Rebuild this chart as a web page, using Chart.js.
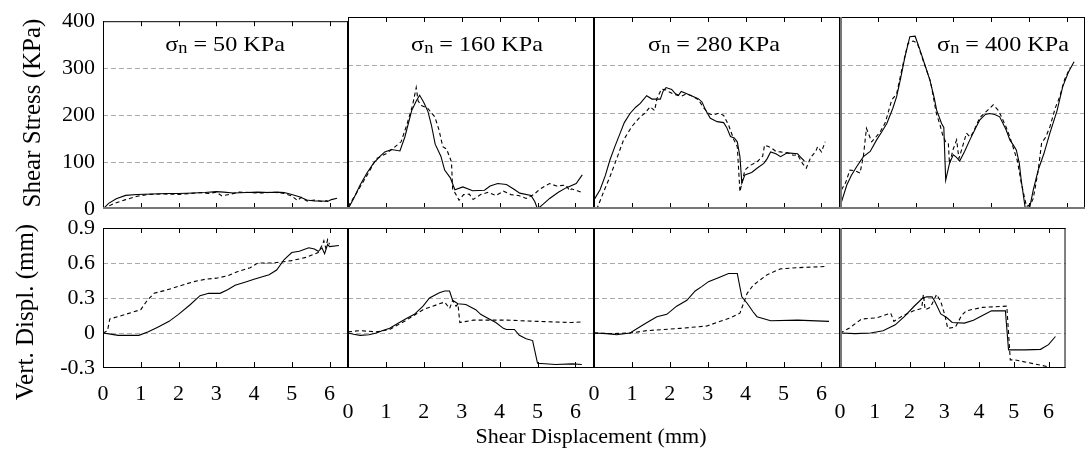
<!DOCTYPE html>
<html>
<head>
<meta charset="utf-8">
<script src="https://cdn.jsdelivr.net/npm/chart.js@4.4.0/dist/chart.umd.min.js"></script>
<style>
body { margin: 0; background: #fff; }
#wrap { position: relative; width: 1085px; height: 452px; overflow: hidden; font-family: "Liberation Serif", "Times New Roman", serif; color: #000; }
#wrap canvas { position: absolute; left: 0; top: 0; }
.lbl { position: absolute; white-space: nowrap; }
.ptitle { font-size: 21px; line-height: 24px; transform: translateX(-50%) scaleX(1.15); }
.ptitle sub { font-size: 16px; vertical-align: -2px; line-height: 0; }
.ytitle { font-size: 25px; line-height: 25px; transform: translate(-50%, -50%) rotate(-90deg); }
.xtitle { font-size: 22px; line-height: 22px; transform: translateX(-50%); }
</style>
</head>
<body>
<div id="wrap"></div>
<script>
// normal stress of each test (one column each)
var normal_stress = [50, 160, 280, 400];

// axis ticks
var x_ticks = [0, 1, 2, 3, 4, 5, 6];
var tau_ticks = [0, 100, 200, 300, 400];
var dv_ticks = [-0.3, 0, 0.3, 0.6, 0.9];

// shear stress (KPa) vs shear displacement (mm)
var tau_50_solid = [[0,0],[0.15,12],[0.35,22],[0.6,29],[0.9,31],[1.3,32],[1.7,33],[2.0,33],[2.4,34],[2.7,35],[3.0,37],[3.2,36],[3.45,34],[3.8,35],[4.1,36],[4.4,35],[4.6,36],[4.8,35],[5.0,31],[5.2,26],[5.4,19],[5.6,17],[5.8,17],[5.95,16],[6.05,20],[6.2,23]];
var tau_50_dashed = [[0,0],[0.3,12],[0.6,20],[0.9,27],[1.2,31],[1.6,32],[2.0,31],[2.3,33],[2.6,35],[2.8,33],[3.0,36],[3.15,28],[3.35,31],[3.6,36],[3.9,35],[4.2,34],[4.5,36],[4.8,33],[5.0,28],[5.15,18],[5.25,25],[5.4,17],[5.6,19],[5.8,16],[5.95,18]];

var tau_160_solid = [[0,0],[0.15,22],[0.32,50],[0.5,75],[0.67,95],[0.85,110],[0.97,119],[1.15,124],[1.37,121],[1.5,150],[1.68,205],[1.8,225],[1.89,237],[2.0,222],[2.11,203],[2.2,175],[2.3,135],[2.45,110],[2.55,81],[2.7,65],[2.82,40],[3.03,46],[3.29,38],[3.6,39],[3.75,48],[3.95,53],[4.18,51],[4.4,40],[4.53,33],[4.83,28],[4.93,15],[5.0,0],[5.15,10],[5.32,22],[5.55,35],[5.75,44],[6.02,53],[6.18,71]];
var tau_160_dashed = [[0,5],[0.2,30],[0.5,70],[0.75,105],[1.0,115],[1.2,127],[1.4,140],[1.55,175],[1.7,215],[1.8,253],[1.85,225],[1.95,215],[2.1,210],[2.29,192],[2.4,165],[2.5,130],[2.6,125],[2.73,98],[2.76,42],[2.85,30],[2.93,18],[3.05,30],[3.2,31],[3.3,20],[3.5,30],[3.7,35],[3.9,28],[4.1,37],[4.3,30],[4.5,28],[4.7,22],[4.9,30],[5.04,40],[5.2,48],[5.32,53],[5.5,48],[5.75,50],[5.85,38],[5.9,42],[6.05,38],[6.2,34]];

var tau_280_solid = [[0,19],[0.16,40],[0.3,70],[0.42,102],[0.55,130],[0.69,158],[0.8,180],[0.95,199],[1.1,212],[1.22,220],[1.39,236],[1.53,229],[1.75,229],[1.82,245],[1.9,253],[2.05,249],[2.15,240],[2.23,237],[2.3,245],[2.45,240],[2.63,234],[2.75,230],[2.85,223],[2.95,205],[3.07,189],[3.25,182],[3.42,180],[3.5,170],[3.6,151],[3.7,148],[3.78,140],[3.85,109],[3.9,54],[3.98,71],[4.16,76],[4.3,85],[4.48,95],[4.57,105],[4.66,119],[4.8,115],[4.92,109],[5.1,117],[5.37,115],[5.45,108],[5.55,100]];
var tau_280_dashed = [[0.05,0],[0.1,5],[0.25,35],[0.42,67],[0.6,105],[0.78,144],[1.0,172],[1.22,192],[1.35,200],[1.48,213],[1.6,205],[1.66,230],[1.78,250],[1.9,248],[2.0,243],[2.15,238],[2.3,235],[2.45,240],[2.6,235],[2.75,228],[2.9,210],[3.05,198],[3.16,196],[3.3,200],[3.42,195],[3.55,175],[3.69,144],[3.78,130],[3.85,36],[3.98,81],[4.1,90],[4.3,98],[4.45,110],[4.5,133],[4.6,130],[4.68,127],[4.8,120],[4.92,119],[5.1,117],[5.25,112],[5.37,113],[5.5,95],[5.6,85],[5.72,108],[5.85,120],[5.9,130],[6.0,119],[6.1,140]];

var tau_400_solid = [[0,5],[0.18,50],[0.3,70],[0.44,88],[0.62,109],[0.8,120],[0.97,144],[1.1,160],[1.24,178],[1.4,210],[1.5,234],[1.6,270],[1.72,317],[1.85,359],[1.99,360],[2.12,331],[2.25,300],[2.38,269],[2.5,230],[2.56,206],[2.69,178],[2.75,170],[2.8,60],[2.9,95],[3.0,113],[3.08,108],[3.17,100],[3.3,120],[3.44,144],[3.6,170],[3.7,185],[3.85,197],[3.97,199],[4.1,197],[4.23,192],[4.4,165],[4.5,144],[4.6,132],[4.67,123],[4.75,95],[4.8,60],[4.91,0],[5.03,5],[5.12,40],[5.25,81],[5.4,115],[5.56,158],[5.75,205],[5.9,255],[6.05,285],[6.2,307]];
var tau_400_dashed = [[0.04,40],[0.15,55],[0.26,81],[0.4,80],[0.53,75],[0.62,110],[0.7,168],[0.84,140],[0.95,150],[1.06,160],[1.2,180],[1.37,227],[1.5,240],[1.65,295],[1.8,345],[1.94,350],[2.05,345],[2.2,310],[2.4,265],[2.55,200],[2.65,175],[2.73,151],[2.8,140],[2.87,137],[2.9,94],[3.0,125],[3.09,144],[3.15,105],[3.22,123],[3.35,158],[3.45,150],[3.53,160],[3.7,190],[3.9,205],[4.06,217],[4.2,205],[4.4,171],[4.5,150],[4.6,125],[4.7,100],[4.8,55],[4.94,5],[5.05,10],[5.12,22],[5.25,80],[5.34,137],[5.45,150],[5.56,171],[5.7,210],[5.82,234],[5.95,270],[6.1,295]];

// vertical displacement (mm) vs shear displacement (mm)
var dv_50_solid = [[0,0],[0.2,-0.01],[0.4,-0.02],[0.95,-0.02],[1.2,0.01],[1.45,0.05],[1.75,0.1],[2.0,0.16],[2.3,0.24],[2.57,0.32],[2.8,0.34],[3.1,0.34],[3.3,0.37],[3.5,0.41],[3.8,0.44],[4.0,0.46],[4.2,0.48],[4.4,0.5],[4.6,0.54],[4.8,0.63],[5.0,0.69],[5.2,0.7],[5.45,0.73],[5.6,0.72],[5.7,0.7],[5.8,0.73],[5.87,0.68],[5.95,0.76],[6.0,0.74],[6.25,0.75]];
var dv_50_dashed = [[0,0],[0.12,0.02],[0.18,0.12],[0.5,0.15],[0.8,0.18],[1.0,0.2],[1.15,0.27],[1.35,0.34],[1.7,0.37],[2.0,0.4],[2.4,0.44],[2.7,0.46],[3.0,0.47],[3.3,0.49],[3.6,0.53],[3.9,0.56],[4.1,0.6],[4.5,0.6],[5.0,0.62],[5.4,0.65],[5.7,0.69],[5.8,0.75],[5.85,0.79],[5.9,0.73],[5.95,0.8],[6.0,0.76]];

var dv_160_solid = [[0,0],[0.15,-0.01],[0.32,-0.02],[0.55,-0.015],[0.75,0],[0.9,0.02],[1.1,0.04],[1.3,0.08],[1.54,0.125],[1.75,0.16],[1.98,0.23],[2.15,0.3],[2.41,0.345],[2.55,0.36],[2.68,0.36],[2.76,0.28],[2.9,0.25],[3.11,0.245],[3.37,0.2],[3.5,0.16],[3.64,0.135],[3.9,0.09],[4.1,0.04],[4.18,0.03],[4.39,0.03],[4.52,-0.02],[4.7,-0.05],[4.87,-0.065],[5.0,-0.26],[5.48,-0.27],[5.92,-0.265],[6.17,-0.27]];
var dv_160_dashed = [[0,0.01],[0.32,0.02],[0.75,0.01],[1.1,0.03],[1.54,0.11],[1.98,0.2],[2.41,0.25],[2.55,0.265],[2.68,0.21],[2.76,0.28],[2.85,0.23],[2.9,0.25],[2.95,0.09],[3.3,0.11],[4.2,0.11],[5.0,0.1],[5.9,0.09],[6.2,0.095]];

var dv_280_solid = [[0,0],[0.33,-0.005],[0.6,-0.015],[0.95,0],[1.3,0.07],[1.5,0.11],[1.66,0.14],[1.92,0.16],[2.18,0.23],[2.45,0.28],[2.67,0.36],[2.85,0.4],[3.02,0.44],[3.33,0.48],[3.55,0.51],[3.78,0.51],[3.9,0.31],[4.04,0.255],[4.2,0.18],[4.3,0.14],[4.66,0.105],[5.37,0.11],[6.2,0.1]];
var dv_280_dashed = [[0,0],[0.5,-0.005],[0.95,0],[1.39,0.02],[2.27,0.04],[2.98,0.06],[3.33,0.1],[3.6,0.13],[3.85,0.17],[4.04,0.34],[4.2,0.41],[4.57,0.5],[4.92,0.55],[5.37,0.56],[6.1,0.57]];

var dv_400_solid = [[0,0],[0.44,-0.005],[0.88,0],[1.24,0.02],[1.59,0.07],[1.85,0.14],[2.12,0.225],[2.38,0.3],[2.5,0.31],[2.65,0.31],[2.73,0.27],[2.9,0.163],[3.06,0.135],[3.23,0.09],[3.58,0.085],[3.84,0.11],[4.1,0.15],[4.36,0.19],[4.76,0.19],[4.85,-0.145],[5.33,-0.145],[5.77,-0.14],[6.0,-0.1],[6.2,-0.03]];
var dv_400_dashed = [[0,0],[0.26,0.04],[0.62,0.12],[1.06,0.13],[1.46,0.17],[1.55,0.1],[1.76,0.14],[2.12,0.19],[2.35,0.21],[2.4,0.33],[2.45,0.2],[2.6,0.22],[2.78,0.33],[2.9,0.27],[3.02,0.15],[3.1,0.04],[3.32,0.05],[3.5,0.15],[3.63,0.19],[4.1,0.22],[4.8,0.23],[4.9,-0.23],[5.03,-0.23],[6.0,-0.29]];

var tau_series = [[tau_50_solid, tau_50_dashed], [tau_160_solid, tau_160_dashed], [tau_280_solid, tau_280_dashed], [tau_400_solid, tau_400_dashed]];
var dv_series = [[dv_50_solid, dv_50_dashed], [dv_160_solid, dv_160_dashed], [dv_280_solid, dv_280_dashed], [dv_400_solid, dv_400_dashed]];

// panel geometry (page pixels)
var W = 1085, H = 452;
var col_left = [103, 348, 594, 840];
var col_right = [348, 594, 840, 1085];
var row_top = [17, 228];
var row_bottom = [209, 368];
var x_max = 6.49;
var x_label_pad = [13, 31, 13, 31]; // labels are staggered

Chart.defaults.font.family = '"Liberation Serif", "Times New Roman", serif';
Chart.defaults.color = '#000';

var frame_plugin = {
        id: 'frame',
        afterDatasetsDraw: function(chart, args, opts) {
                var a = chart.chartArea;
                var ctx = chart.ctx;
                var xs = chart.scales.x;
                ctx.save();
                ctx.lineWidth = 1;
                ctx.strokeStyle = '#000';
                ctx.beginPath();
                x_ticks.forEach(function(v) {
                        var px = Math.round(xs.getPixelForValue(v)) + 0.5;
                        ctx.moveTo(px, a.top);
                        ctx.lineTo(px, a.top + 5);
                        ctx.moveTo(px, a.bottom);
                        ctx.lineTo(px, a.bottom - 6);
                });
                ctx.moveTo(a.left, a.top + 0.5);
                ctx.lineTo(a.right, a.top + 0.5);
                ctx.moveTo(a.right - 0.5, a.top);
                ctx.lineTo(a.right - 0.5, a.bottom);
                ctx.stroke();

                ctx.strokeStyle = opts.left_color;
                ctx.lineWidth = opts.left_width;
                ctx.beginPath();
                ctx.moveTo(a.left + opts.left_width / 2, a.top);
                ctx.lineTo(a.left + opts.left_width / 2, a.bottom);
                ctx.stroke();

                ctx.strokeStyle = opts.bottom_color;
                ctx.lineWidth = opts.bottom_width;
                ctx.beginPath();
                ctx.moveTo(a.left, a.bottom - opts.bottom_width / 2);
                ctx.lineTo(a.right, a.bottom - opts.bottom_width / 2);
                ctx.stroke();
                ctx.restore();
        }
};

function add_label(html, cls, x, y) {
        var d = document.createElement('div');
        d.className = 'lbl ' + cls;
        d.innerHTML = html;
        d.style.left = x + 'px';
        d.style.top = y + 'px';
        document.getElementById('wrap').appendChild(d);
        return d;
}

function init_panel(col, row) {
        var cv = document.createElement('canvas');
        cv.width = W;
        cv.height = H;
        document.getElementById('wrap').appendChild(cv);

        var series = row === 0 ? tau_series[col] : dv_series[col];
        var y_ticks = row === 0 ? tau_ticks : dv_ticks;
        var y_width = col === 0 ? col_left[0] : 0;
        var x_height = row === 1 ? 60 : 0;

        new Chart(cv, {
                type: 'line',
                data: {
                        datasets: [{
                                data: series[0],
                                borderColor: '#000',
                                borderWidth: 1.1,
                                pointRadius: 0,
                                fill: false
                        }, {
                                data: series[1],
                                borderColor: '#000',
                                borderWidth: 1.1,
                                borderDash: [4, 3],
                                pointRadius: 0,
                                fill: false
                        }]
                },
                options: {
                        responsive: false,
                        animation: false,
                        devicePixelRatio: 1,
                        events: [],
                        layout: {
                                padding: {
                                        left: col_left[col] - y_width,
                                        right: W - col_right[col],
                                        top: row_top[row],
                                        bottom: H - row_bottom[row] - x_height
                                }
                        },
                        plugins: {
                                legend: { display: false },
                                tooltip: { enabled: false },
                                frame: {
                                        left_color: col === 3 ? '#777' : '#000',
                                        left_width: col === 3 ? 2 : 1,
                                        bottom_color: row === 0 ? '#777' : '#000',
                                        bottom_width: row === 0 ? 2 : 1
                                }
                        },
                        scales: {
                                x: {
                                        type: 'linear',
                                        min: 0,
                                        max: x_max,
                                        display: row === 1,
                                        afterBuildTicks: function(s) { s.ticks = x_ticks.map(function(v) { return { value: v }; }); },
                                        afterFit: function(s) { s.height = x_height; },
                                        grid: { display: false, drawTicks: false },
                                        border: { display: false },
                                        ticks: {
                                                padding: x_label_pad[col],
                                                maxRotation: 0,
                                                font: { size: 22 },
                                                callback: function(v) { return String(v); }
                                        }
                                },
                                y: {
                                        type: 'linear',
                                        min: y_ticks[0],
                                        max: y_ticks[y_ticks.length - 1],
                                        afterBuildTicks: function(s) { s.ticks = y_ticks.map(function(v) { return { value: v }; }); },
                                        afterFit: function(s) { s.width = y_width; },
                                        grid: {
                                                drawTicks: false,
                                                lineWidth: 1,
                                                color: function(c) {
                                                        if (c.index === 0 || c.index === y_ticks.length - 1) return 'rgba(0,0,0,0)';
                                                        return '#aaaaaa';
                                                }
                                        },
                                        border: { display: false, dash: [5, 3] },
                                        ticks: {
                                                display: col === 0,
                                                padding: 8,
                                                font: { size: 22 },
                                                callback: function(v) { return String(v); }
                                        }
                                }
                        }
                },
                plugins: [frame_plugin]
        });
}

for (var r = 0; r < 2; r++) {
        for (var c = 0; c < 4; c++) {
                init_panel(c, r);
        }
}

// panel titles
var title_x = [225, 477, 714, 1003];
for (var i = 0; i < normal_stress.length; i++) {
        add_label('\u03c3<sub>n</sub> = ' + normal_stress[i] + ' KPa', 'ptitle', title_x[i], 32);
}

// axis titles
add_label('Shear Stress (KPa)', 'ytitle', 31, 113);
add_label('Vert. Displ. (mm)', 'ytitle', 24, 312);
add_label('Shear Displacement (mm)', 'xtitle', 591, 425);
</script>
</body>
</html>
